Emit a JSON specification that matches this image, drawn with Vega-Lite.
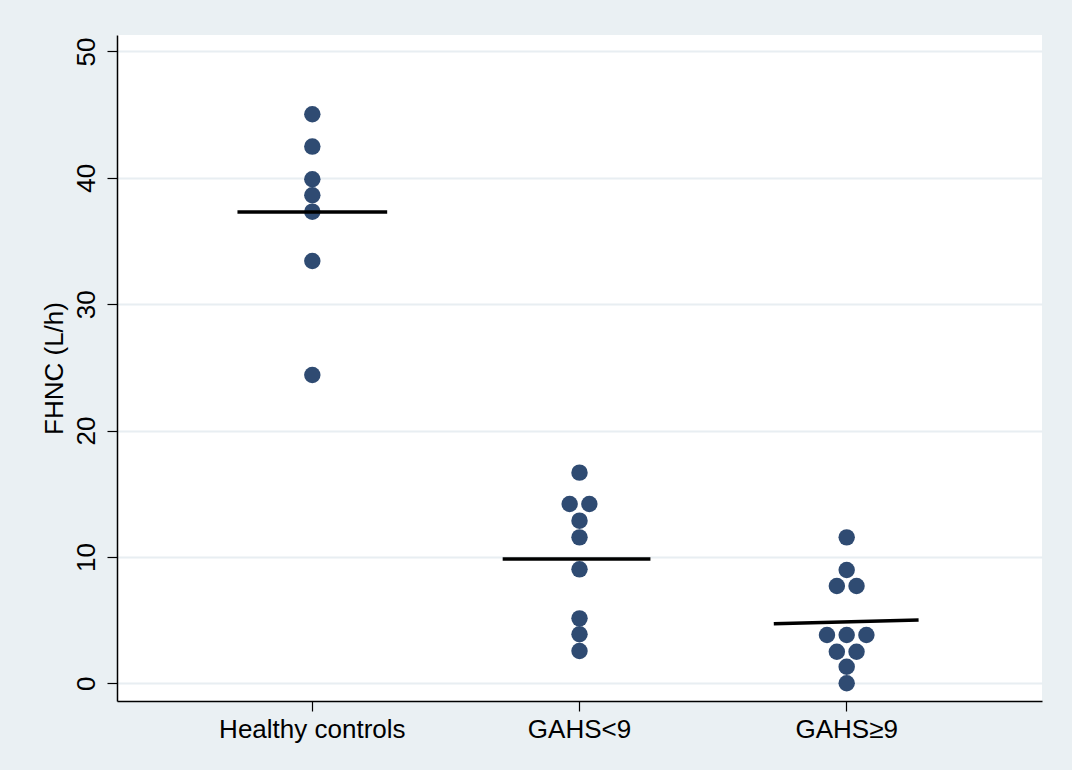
{
  "$schema": "https://vega.github.io/schema/vega-lite/v6.json",
  "width": 925,
  "height": 666,
  "autosize": {"type": "none"},
  "padding": {"left": 117, "top": 35, "right": 30, "bottom": 69},
  "background": "#eaf0f3",
  "config": {
    "view": {"fill": "white", "stroke": null},
    "font": "Liberation Sans"
  },
  "datasets": {
    "points": [
      {"group": "Healthy controls", "slot": 0, "fhnc": 45.03},
      {"group": "Healthy controls", "slot": 0, "fhnc": 42.47},
      {"group": "Healthy controls", "slot": 0, "fhnc": 39.89},
      {"group": "Healthy controls", "slot": 0, "fhnc": 38.62},
      {"group": "Healthy controls", "slot": 0, "fhnc": 37.32},
      {"group": "Healthy controls", "slot": 0, "fhnc": 33.42},
      {"group": "Healthy controls", "slot": 0, "fhnc": 24.4},
      {"group": "GAHS<9", "slot": 0, "fhnc": 16.67},
      {"group": "GAHS<9", "slot": -1, "fhnc": 14.19},
      {"group": "GAHS<9", "slot": 1, "fhnc": 14.19},
      {"group": "GAHS<9", "slot": 0, "fhnc": 12.87},
      {"group": "GAHS<9", "slot": 0, "fhnc": 11.55},
      {"group": "GAHS<9", "slot": 0, "fhnc": 9.02},
      {"group": "GAHS<9", "slot": 0, "fhnc": 5.14},
      {"group": "GAHS<9", "slot": 0, "fhnc": 3.88},
      {"group": "GAHS<9", "slot": 0, "fhnc": 2.56},
      {"group": "GAHS≥9", "slot": 0, "fhnc": 11.55},
      {"group": "GAHS≥9", "slot": 0, "fhnc": 8.97},
      {"group": "GAHS≥9", "slot": -1, "fhnc": 7.7},
      {"group": "GAHS≥9", "slot": 1, "fhnc": 7.7},
      {"group": "GAHS≥9", "slot": -2, "fhnc": 3.82},
      {"group": "GAHS≥9", "slot": 0, "fhnc": 3.82},
      {"group": "GAHS≥9", "slot": 2, "fhnc": 3.82},
      {"group": "GAHS≥9", "slot": -1, "fhnc": 2.5},
      {"group": "GAHS≥9", "slot": 1, "fhnc": 2.5},
      {"group": "GAHS≥9", "slot": 0, "fhnc": 1.31},
      {"group": "GAHS≥9", "slot": 0, "fhnc": 0}
    ],
    "medians": [
      {"group": "Healthy controls", "slot": -7.6, "fhnc": 37.3},
      {"group": "Healthy controls", "slot": 7.6, "fhnc": 37.3},
      {"group": "GAHS<9", "slot": -7.8, "fhnc": 9.84},
      {"group": "GAHS<9", "slot": 7.2, "fhnc": 9.84},
      {"group": "GAHS≥9", "slot": -7.4, "fhnc": 4.72},
      {"group": "GAHS≥9", "slot": 7.3, "fhnc": 5.0}
    ]
  },
  "encoding": {
    "x": {
      "field": "group",
      "type": "nominal",
      "sort": ["Healthy controls", "GAHS<9", "GAHS≥9"],
      "scale": {"paddingInner": 0, "paddingOuter": 0.231},
      "axis": {
        "title": null,
        "labelAngle": 0,
        "labelFontSize": 26,
        "labelLimit": 0,
        "labelColor": "black",
        "labelPadding": 5,
        "tickSize": 10,
        "tickColor": "black",
        "tickWidth": 1.2,
        "domainColor": "black",
        "domainWidth": 1.5,
        "grid": false
      }
    },
    "xOffset": {
      "field": "slot",
      "type": "quantitative",
      "scale": {"domain": [-10, 10], "range": [35.1, 232.1], "zero": false, "nice": false}
    },
    "y": {
      "field": "fhnc",
      "type": "quantitative",
      "scale": {"domain": [-1.4, 51.3], "nice": false, "zero": false},
      "axis": {
        "title": "FHNC (L/h)",
        "values": [0, 10, 20, 30, 40, 50],
        "labelAngle": -90,
        "labelAlign": "center",
        "labelBaseline": "bottom",
        "labelFontSize": 26,
        "labelColor": "black",
        "labelPadding": 8,
        "tickSize": 10,
        "tickColor": "black",
        "tickWidth": 1.2,
        "domainColor": "black",
        "domainWidth": 1.5,
        "grid": true,
        "gridColor": "#e8eef2",
        "gridWidth": 2,
        "titleFontSize": 26,
        "titleFontWeight": "normal",
        "titleColor": "black",
        "titlePadding": 6
      }
    }
  },
  "layer": [
    {
      "data": {"name": "points"},
      "mark": {"type": "circle", "size": 270, "color": "#2f4b72", "opacity": 1}
    },
    {
      "data": {"name": "medians"},
      "mark": {"type": "line", "color": "black", "strokeWidth": 3.5},
      "encoding": {
        "detail": {"field": "group"},
        "order": {"field": "slot", "type": "quantitative"}
      }
    }
  ]
}
